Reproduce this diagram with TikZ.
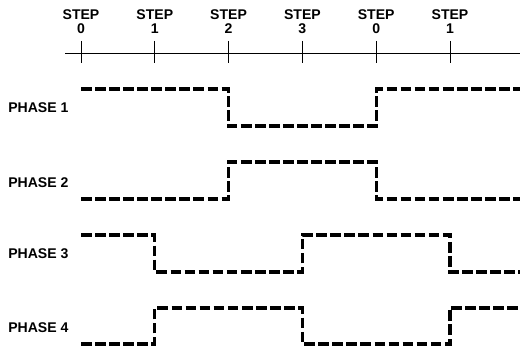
\documentclass[tikz,border=0pt]{standalone}
\usepackage{fontspec}
\setmainfont{Liberation Sans}
\usetikzlibrary{positioning}

\tikzset{
	wave/.style={line width=2.2pt, dash pattern=on 7.6pt off 2.4pt},
	steplabel/.style={align=center, font=\fontsize{10}{10}\selectfont\bfseries, inner sep=0pt},
	phaselabel/.style={anchor=west, font=\fontsize{10}{10}\selectfont\bfseries, inner sep=0pt}
}

\begin{document}
\begin{tikzpicture}

	\useasboundingbox (0,0) rectangle (13,-8.725);

	% Eix de passos
	\coordinate (a) at (1.625,-1.325);
	\coordinate (e) at (13,-1.325);
	\coordinate (s0) at (2.025,-1.325);
	\coordinate (s1) at (3.87,-1.325);
	\coordinate (s2) at (5.715,-1.325);
	\coordinate (s3) at (7.56,-1.325);
	\coordinate (s4) at (9.405,-1.325);
	\coordinate (s5) at (11.25,-1.325);

	\draw[line width=0.7pt] (a) -- (e);
	\foreach \s in {s0,s1,s2,s3,s4,s5}
		\draw[line width=0.7pt] ([yshift=0.3cm]\s) coordinate (\s t) -- ([yshift=-0.25cm]\s);

	\node[steplabel, above=0.17cm of s0t] (l0) {STEP\\0};
	\node[steplabel, above=0.17cm of s1t] (l1) {STEP\\1};
	\node[steplabel, above=0.17cm of s2t] (l2) {STEP\\2};
	\node[steplabel, above=0.17cm of s3t] (l3) {STEP\\3};
	\node[steplabel, above=0.17cm of s4t] (l4) {STEP\\0};
	\node[steplabel, above=0.17cm of s5t] (l5) {STEP\\1};

	% Nivells de cada fase
	\coordinate (h1) at (0,-2.225);
	\coordinate (b1) at (0,-3.15);
	\coordinate (h2) at (0,-4.05);
	\coordinate (b2) at (0,-4.975);
	\coordinate (h3) at (0,-5.875);
	\coordinate (b3) at (0,-6.8);
	\coordinate (h4) at (0,-7.7);
	\coordinate (b4) at (0,-8.6);

	% Fase 1
	\node[phaselabel] (p1) at (0.2,-2.69) {PHASE 1};
	\draw[wave] (s0 |- h1) -- (s2 |- h1) -- (s2 |- b1) -- (s4 |- b1) -- (s4 |- h1) -- (e |- h1);

	% Fase 2
	\node[phaselabel] (p2) at (0.2,-4.57) {PHASE 2};
	\draw[wave] (s0 |- b2) -- (s2 |- b2) -- (s2 |- h2) -- (s4 |- h2) -- (s4 |- b2) -- (e |- b2);

	% Fase 3
	\node[phaselabel] (p3) at (0.2,-6.33) {PHASE 3};
	\draw[wave] (s0 |- h3) -- (s1 |- h3) -- (s1 |- b3) -- (s3 |- b3) -- (s3 |- h3) -- (s5 |- h3) -- (s5 |- b3) -- (e |- b3);

	% Fase 4
	\node[phaselabel] (p4) at (0.2,-8.18) {PHASE 4};
	\draw[wave] (s0 |- b4) -- (s1 |- b4) -- (s1 |- h4) -- (s3 |- h4) -- (s3 |- b4) -- (s5 |- b4) -- (s5 |- h4) -- (e |- h4);

\end{tikzpicture}
\end{document}
